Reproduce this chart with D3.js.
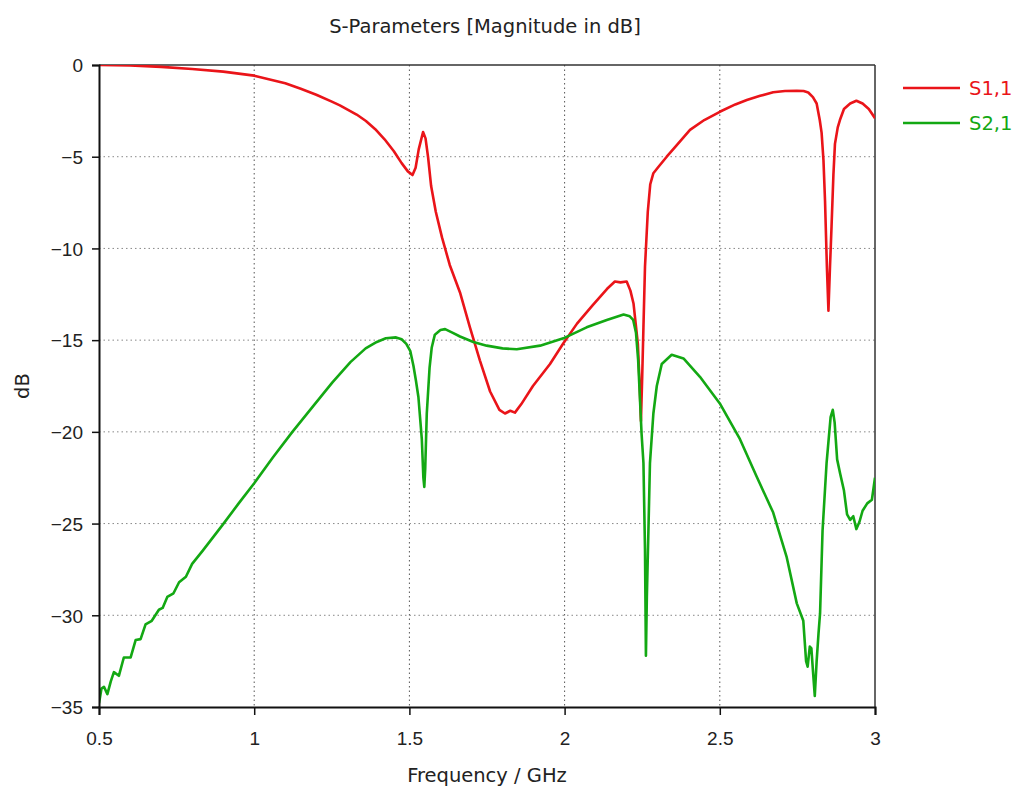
<!DOCTYPE html>
<html>
<head>
<meta charset="utf-8">
<script src="https://cdn.jsdelivr.net/npm/d3@7"></script>
<style>
  body { margin: 0; background: #fff; }
  svg { display: block; font-family: "DejaVu Sans", Verdana, sans-serif; }
  .grid line { stroke: #888; stroke-dasharray: 1.5,3; }
  .axis text { font-size: 19px; fill: #222; }
</style>
</head>
<body>
<svg id="chart" width="1020" height="787"></svg>
<script>
// S1,1 (red)
const s11Freq = [0.5, 0.6, 0.7, 0.8, 0.9, 1.0, 1.1, 1.15, 1.2, 1.25, 1.276, 1.33, 1.36, 1.39, 1.42, 1.45, 1.475, 1.495, 1.51, 1.52, 1.53, 1.544, 1.552, 1.56, 1.57, 1.585, 1.605, 1.63, 1.663, 1.695, 1.727, 1.76, 1.79, 1.808, 1.825, 1.84, 1.86, 1.898, 1.953, 1.995, 2.04, 2.09, 2.137, 2.162, 2.18, 2.2, 2.212, 2.222, 2.236, 2.242, 2.246, 2.25, 2.254, 2.259, 2.268, 2.276, 2.286, 2.3, 2.329, 2.36, 2.404, 2.45, 2.5, 2.55, 2.587, 2.63, 2.672, 2.71, 2.748, 2.77, 2.785, 2.8, 2.812, 2.822, 2.828, 2.834, 2.839, 2.845, 2.85, 2.855, 2.86, 2.866, 2.871, 2.88, 2.887, 2.9, 2.92, 2.94, 2.96, 2.98, 3.0];
const s11Db = [0, -0.03, -0.1, -0.22, -0.36, -0.58, -1.0, -1.3, -1.62, -2.0, -2.2, -2.7, -3.05, -3.5, -4.05, -4.7, -5.35, -5.8, -6.0, -5.6, -4.6, -3.65, -4.0, -5.0, -6.6, -8.0, -9.4, -10.9, -12.4, -14.3, -16.1, -17.8, -18.8, -19.0, -18.85, -18.95, -18.5, -17.5, -16.3, -15.2, -14.1, -13.1, -12.2, -11.8, -11.85, -11.8, -12.3, -13.0, -15.2, -17.5, -19.4, -17, -14.3, -11, -8, -6.5, -5.9, -5.6, -5.0, -4.4, -3.54, -3.0, -2.55, -2.15, -1.91, -1.68, -1.49, -1.42, -1.4, -1.42, -1.5, -1.75, -2.1, -3.0, -3.7, -5.2, -7.4, -11, -13.4, -11, -8.8, -6, -4.3, -3.4, -3.0, -2.4, -2.1, -1.95, -2.1, -2.4, -2.9];

// S2,1 (green)
const s21Freq = [0.5, 0.508, 0.516, 0.527, 0.538, 0.548, 0.564, 0.58, 0.602, 0.618, 0.634, 0.65, 0.67, 0.693, 0.705, 0.72, 0.74, 0.758, 0.78, 0.8, 0.833, 0.897, 0.95, 1.0, 1.06, 1.123, 1.19, 1.252, 1.31, 1.359, 1.395, 1.424, 1.457, 1.475, 1.49, 1.503, 1.513, 1.521, 1.529, 1.54, 1.545, 1.548, 1.551, 1.556, 1.565, 1.572, 1.582, 1.6, 1.615, 1.64, 1.663, 1.706, 1.749, 1.8, 1.846, 1.921, 1.996, 2.071, 2.136, 2.19, 2.21, 2.221, 2.23, 2.237, 2.248, 2.254, 2.259, 2.262, 2.265, 2.27, 2.275, 2.286, 2.297, 2.313, 2.345, 2.383, 2.436, 2.5, 2.565, 2.619, 2.672, 2.715, 2.748, 2.769, 2.778, 2.783, 2.79, 2.795, 2.8, 2.806, 2.812, 2.818, 2.823, 2.831, 2.844, 2.857, 2.864, 2.87, 2.878, 2.888, 2.9, 2.91, 2.92, 2.93, 2.94, 2.95, 2.96, 2.975, 2.99, 3.0];
const s21Db = [-34.8, -34.0, -33.9, -34.3, -33.6, -33.1, -33.3, -32.3, -32.3, -31.35, -31.3, -30.5, -30.3, -29.7, -29.6, -29.0, -28.8, -28.2, -27.9, -27.2, -26.5, -25.1, -23.9, -22.8, -21.4, -20.0, -18.6, -17.3, -16.2, -15.45, -15.1, -14.9, -14.85, -14.95, -15.2, -15.6, -16.4, -17.2, -18.1, -20.4, -22.5, -23.0, -22.0, -19.0, -16.5, -15.4, -14.7, -14.45, -14.4, -14.6, -14.8, -15.1, -15.3, -15.45, -15.5, -15.3, -14.9, -14.3, -13.9, -13.6, -13.7, -13.9, -14.6, -16.1, -20.1, -21.7, -26.4, -32.2, -29, -25.4, -21.7, -19.0, -17.5, -16.3, -15.8, -16.0, -17.0, -18.45, -20.4, -22.45, -24.4, -26.8, -29.35, -30.3, -32.5, -32.8, -31.7, -31.8, -33, -34.4, -32.5, -31, -29.9, -25.4, -21.7, -19.2, -18.8, -19.5, -21.5, -22.3, -23.2, -24.5, -24.8, -24.6, -25.3, -24.9, -24.3, -23.9, -23.7, -22.5];

const xTicks = [0.5, 1, 1.5, 2, 2.5, 3];
const yTicks = [0, -5, -10, -15, -20, -25, -30, -35];
const seriesNames = ["S1,1", "S2,1"];
const seriesColors = ["#ea1419", "#13a813"];

const margin = { top: 65, right: 145, bottom: 80, left: 99 };
const svg = d3.select("#chart");
const width = +svg.attr("width") - margin.left - margin.right;
const height = +svg.attr("height") - margin.top - margin.bottom;

const x = d3.scaleLinear().domain([0.5, 3]).range([0, width]);
const y = d3.scaleLinear().domain([-35, 0]).range([height, 0]);

const g = svg.append("g").attr("transform", `translate(${margin.left},${margin.top})`);

g.append("clipPath").attr("id", "plot-clip")
    .append("rect").attr("width", width).attr("height", height);

// grid
const grid = g.append("g").attr("class", "grid");
grid.selectAll(".gx").data(xTicks.slice(1, -1)).enter().append("line")
    .attr("x1", d => x(d)).attr("x2", d => x(d))
    .attr("y1", 0).attr("y2", height)
    .style("stroke", "#555");
grid.selectAll(".gy").data(yTicks.slice(1, -1)).enter().append("line")
    .attr("x1", 0).attr("x2", width)
    .attr("y1", d => y(d)).attr("y2", d => y(d));

// frame (top/right)
g.append("line").attr("x1", 0).attr("x2", width).attr("y1", 0).attr("y2", 0)
    .attr("stroke", "#333").attr("stroke-width", 1.5);
g.append("line").attr("x1", width).attr("x2", width).attr("y1", 0).attr("y2", height)
    .attr("stroke", "#333").attr("stroke-width", 1.5);

// lines
const line = d3.line().x(d => x(d[0])).y(d => y(d[1]));
const series = [
    d3.zip(s11Freq, s11Db),
    d3.zip(s21Freq, s21Db)
];
g.append("g").attr("clip-path", "url(#plot-clip)")
    .selectAll("path").data(series).enter().append("path")
    .attr("d", line)
    .attr("fill", "none")
    .attr("stroke", (d, i) => seriesColors[i])
    .attr("stroke-width", 2.6)
    .attr("stroke-linejoin", "round");

// axes
const xAxis = g.append("g").attr("class", "axis")
    .attr("transform", `translate(0,${height})`)
    .call(d3.axisBottom(x).tickValues(xTicks).tickFormat(d3.format("")).tickSize(8).tickPadding(17));
const yAxis = g.append("g").attr("class", "axis")
    .call(d3.axisLeft(y).tickValues(yTicks).tickFormat(d3.format("")).tickSize(7).tickPadding(9));
[xAxis, yAxis].forEach(a => {
    a.select(".domain").attr("stroke", "#111").attr("stroke-width", 2);
    a.selectAll(".tick line").attr("stroke", "#111").attr("stroke-width", 1.5);
});
yAxis.selectAll(".tick text").attr("dy", "0.36em");

// titles
svg.append("text")
    .attr("x", margin.left + width / 2 - 2).attr("y", 33)
    .attr("text-anchor", "middle")
    .style("font-size", "19.5px").attr("fill", "#222")
    .text("S-Parameters [Magnitude in dB]");
svg.append("text")
    .attr("x", margin.left + width / 2).attr("y", 782)
    .attr("text-anchor", "middle")
    .style("font-size", "19.5px").attr("fill", "#222")
    .text("Frequency / GHz");
svg.append("text")
    .attr("transform", `translate(29,${margin.top + height / 2}) rotate(-90)`)
    .attr("text-anchor", "middle")
    .style("font-size", "19.5px").attr("fill", "#222")
    .text("dB");

// legend
const legend = svg.append("g").attr("transform", "translate(903,88)");
const item = legend.selectAll("g").data(seriesNames).enter().append("g")
    .attr("transform", (d, i) => `translate(0,${i * 35})`);
item.append("line").attr("x1", 0).attr("x2", 57)
    .attr("stroke", (d, i) => seriesColors[i]).attr("stroke-width", 2.6);
item.append("text").attr("x", 66).attr("dy", "0.38em")
    .style("font-size", "19.5px")
    .attr("fill", (d, i) => seriesColors[i])
    .text(d => d);
</script>
</body>
</html>
